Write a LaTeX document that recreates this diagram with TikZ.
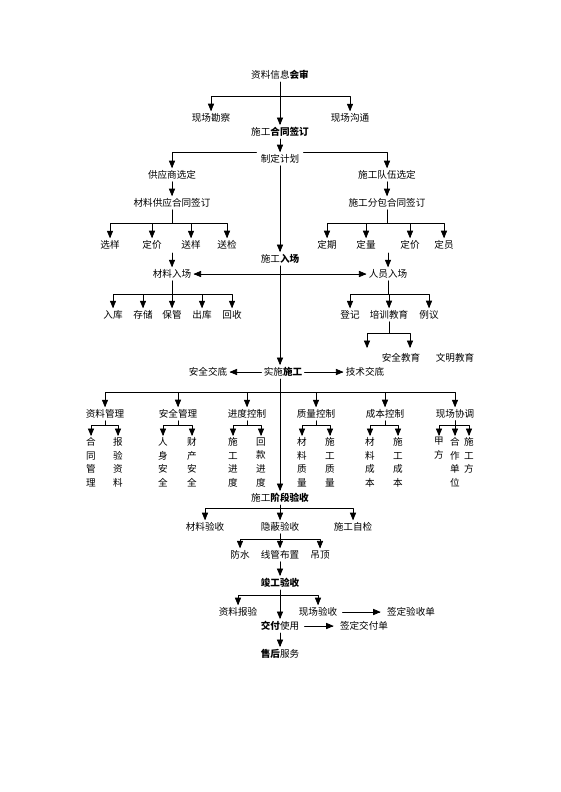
\documentclass[tikz,border=0pt]{standalone}
\usepackage{fontspec}
\setmainfont{Noto Sans CJK SC}
\usetikzlibrary{arrows}

\begin{document}
\begin{tikzpicture}[line cap=round,line join=round,>=triangle 45,x=1pt,y=-1pt,line width=0.7pt,
  every node/.style={font=\fontsize{9.6}{11}\selectfont,inner sep=2pt},
  vtext/.style={font=\fontsize{9.6}{13.7}\selectfont,align=center,anchor=north,inner sep=1pt,execute at begin node=\strut},
  gap/.style={shorten <=3pt,shorten >=4pt}]
\useasboundingbox[fill=white] (0,0) rectangle (560,792);
\node (shenhe) at (280,75) {资料信息\textbf{会审}};
\node (kancha) at (211,118) {现场勘察};
\node (goutong) at (350,118) {现场沟通};
\node (hetong) at (280,132) {施工\textbf{合同签订}};
\node[fill=white,inner xsep=4pt] (jihua) at (280,159) {制定计划};
\node (gongying) at (172,175) {供应商选定};
\node (clhetong) at (172,203) {材料供应合同签订};
\node (duiwu) at (387,175) {施工队伍选定};
\node (fenbao) at (387,203) {施工分包合同签订};
\node (xuanyang) at (110,245) {选样};
\node (dingjia1) at (152,245) {定价};
\node (songyang) at (191,245) {送样};
\node (songjian) at (227,245) {送检};
\node (dingqi) at (327,245) {定期};
\node (dingliang) at (366,245) {定量};
\node (dingjia2) at (410,245) {定价};
\node (dingyuan) at (444,245) {定员};
\node (ruchang) at (280,259) {施工\textbf{入场}};
\node (clruchang) at (172,274) {材料入场};
\node (ryruchang) at (388,274) {人员入场};
\node (ruku) at (113,315) {入库};
\node (cunchu) at (143,315) {存储};
\node (baoguan) at (172,315) {保管};
\node (chuku) at (202,315) {出库};
\node (huishou) at (232,315) {回收};
\node (dengji) at (350,315) {登记};
\node (peixun) at (389,315) {培训教育};
\node (liyi) at (429,315) {例议};
\node (aqjy) at (401,358) {安全教育};
\node (wmjy) at (455,358) {文明教育};
\coordinate (p1) at (367,348);
\coordinate (p2) at (410,348);
\node (shishi) at (283,372) {实施\textbf{施工}};
\node (aqjd) at (208,372) {安全交底};
\node (jsjd) at (365,372) {技术交底};
\node (zlgl) at (105,414) {资料管理};
\node (aqgl) at (178,414) {安全管理};
\node (jdkz) at (247,414) {进度控制};
\node (zlkz) at (316,414) {质量控制};
\node (cbkz) at (385,414) {成本控制};
\node (xctj) at (455,414) {现场协调};
\node[vtext] (htgl) at (91,436) {合\\同\\管\\理};
\node[vtext] (byzl) at (118,436) {报\\验\\资\\料};
\node[vtext] (rsaq) at (163,436) {人\\身\\安\\全};
\node[vtext] (ccaq) at (192,436) {财\\产\\安\\全};
\node[vtext] (sgjd) at (233,436) {施\\工\\进\\度};
\node[vtext] (hkjd) at (261,436) {回\\款\\进\\度};
\node[vtext] (clzl) at (302,436) {材\\料\\质\\量};
\node[vtext] (sgzl) at (330,436) {施\\工\\质\\量};
\node[vtext] (clcb) at (370,436) {材\\料\\成\\本};
\node[vtext] (sgcb) at (398,436) {施\\工\\成\\本};
\node[vtext] (jiafang) at (439,436) {甲\\方};
\node[vtext] (hzdw) at (455,436) {合\\作\\单\\位};
\node[vtext] (sgf) at (469,436) {施\\工\\方};
\node (jieduan) at (280,498) {施工\textbf{阶段验收}};
\node (clys) at (205,527) {材料验收};
\node (yinbi) at (280,527) {隐蔽验收};
\node (sgzj) at (353,527) {施工自检};
\node (fangshui) at (240,555) {防水};
\node (xianguan) at (280,555) {线管布置};
\node (diaoding) at (320,555) {吊顶};
\node (jungong) at (280,583) {\textbf{竣工验收}};
\node (zlby) at (238,612) {资料报验};
\node (xcys) at (318,612) {现场验收};
\node (qdysd) at (411,612) {签定验收单};
\node (jiaofu) at (280,626) {\textbf{交付}使用};
\node (qdjfd) at (364,626) {签定交付单};
\node (shouhou) at (280,654) {\textbf{售后}服务};
\coordinate (b1) at (280,96);
\draw[->] (shenhe) -- (hetong);
\draw[->] (b1) -| (kancha);
\draw[->] (b1) -| (goutong);
\draw[->] (hetong) -- (jihua);
\draw[->] (jihua.north west) -| (gongying);
\draw[->] (jihua.north east) -| (duiwu);
\draw[->] (jihua) -- (ruchang);
\draw[->] (gongying) -- (clhetong);
\draw[->] (duiwu) -- (fenbao);
\coordinate (b2) at (172,223);
\draw (clhetong) -- (b2);
\foreach \n in {xuanyang,dingjia1,songyang,songjian} \draw[->] (b2) -| (\n);
\coordinate (b3) at (387,223);
\draw (fenbao) -- (b3);
\foreach \n in {dingqi,dingliang,dingjia2,dingyuan} \draw[->] (b3) -| (\n);
\coordinate (c1) at (172,253);
\coordinate (c2) at (388,253);
\draw[->] (c1) -- (clruchang);
\draw[->] (c2) -- (ryruchang);
\draw[<->] (clruchang) -- (ryruchang);
\coordinate (b4) at (172,294);
\draw (clruchang) -- (b4);
\foreach \n in {ruku,cunchu,baoguan,chuku,huishou} \draw[->] (b4) -| (\n);
\coordinate (b5) at (388,294);
\draw (ryruchang) -- (b5);
\foreach \n in {dengji,peixun,liyi} \draw[->] (b5) -| (\n);
\coordinate (b6) at (389,333);
\draw (peixun) -- (b6);
\draw[->] (b6) -| (p1);
\draw[->] (b6) -| (p2);
\draw[->] (ruchang) -- (ruchang |- shishi.north);
\draw[->] (shishi) -- (aqjd);
\draw[->] (shishi) -- (jsjd);
\draw[->] (ruchang |- shishi.south) -- (jieduan);
\coordinate (b7) at (280,392);
\foreach \n in {zlgl,aqgl,jdkz,zlkz,cbkz,xctj} \draw[->] (b7) -| (\n);
\foreach \c/\l/\r in {zlgl/htgl/byzl,aqgl/rsaq/ccaq,jdkz/sgjd/hkjd,zlkz/clzl/sgzl,cbkz/clcb/sgcb,xctj/jiafang/sgf}{
  \draw (\c) -- (\c |- 0,425);
  \draw[->] (\c |- 0,425) -| (\l);
  \draw[->] (\c |- 0,425) -| (\r);
}
\draw[->] (xctj) -- (hzdw);
\coordinate (b8) at (280,508);
\draw[->] (jieduan) -- (yinbi);
\draw[->] (b8) -| (clys);
\draw[->] (b8) -| (sgzj);
\coordinate (b9) at (280,539);
\draw[->] (yinbi) -- (xianguan);
\draw[->] (b9) -| (fangshui);
\draw[->] (b9) -| (diaoding);
\draw[->] (xianguan) -- (jungong);
\coordinate (b10) at (280,595);
\draw[->] (jungong) -- (jiaofu);
\draw[->] (b10) -| (zlby);
\draw[->] (b10) -| (xcys);
\draw[->,gap] (xcys) -- (qdysd);
\draw[->,gap] (jiaofu) -- (qdjfd);
\draw[->] (jiaofu) -- (shouhou);
\end{tikzpicture}
\end{document}
